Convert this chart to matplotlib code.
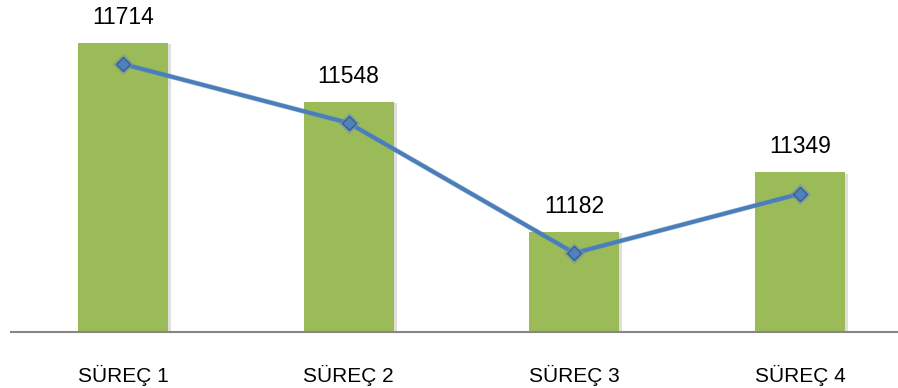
import matplotlib.pyplot as plt
import matplotlib.patheffects as pe
import numpy as np

categories = ["SÜREÇ 1", "SÜREÇ 2", "SÜREÇ 3", "SÜREÇ 4"]
values = [11714, 11548, 11182, 11349]

plt.rcParams['font.family'] = ['Liberation Sans', 'DejaVu Sans']

fig = plt.figure(figsize=(8.98, 3.88), dpi=100)
ax = fig.add_axes([11 / 898, 56 / 388, 887 / 898, 332 / 388])
x = np.arange(len(categories))

bars = ax.bar(x, values, width=0.40, color='#9BBB59', zorder=2,
              path_effects=[pe.withSimplePatchShadow(offset=(2, -1), alpha=0.25, shadow_rgbFace='#808080'),
                            pe.Normal()])
ax.set_ylim(10900, 11834)
ax.set_xlim(-0.496, 3.434)

for xi, v in zip(x, values):
    ax.text(xi, v + 72, str(v), ha='center', va='center', fontsize=16.5, color='black')

# line series sits on its own axis, offset from the bars
ax2 = ax.twinx()
ax2.set_ylim(10960, 11894)
ax2.plot(x, values, color='#4A7EBB', lw=2.8, marker='D', markersize=7,
         markerfacecolor='#4F81BD', markeredgecolor='#3A5F8F', markeredgewidth=1, zorder=3,
         path_effects=[pe.Stroke(linewidth=3.6, foreground='#6A8DB8', alpha=0.6), pe.Normal()])
ax2.axis('off')

for s in ['top', 'right', 'left']:
    ax.spines[s].set_visible(False)
ax.spines['bottom'].set_color('#868686')
ax.spines['bottom'].set_linewidth(1.5)
ax.set_yticks([])

ax.set_xticks(x)
ax.set_xticklabels(categories, fontsize=15)
ax.tick_params(axis='x', length=0, pad=24)

fig.savefig('out.png', dpi=100)
